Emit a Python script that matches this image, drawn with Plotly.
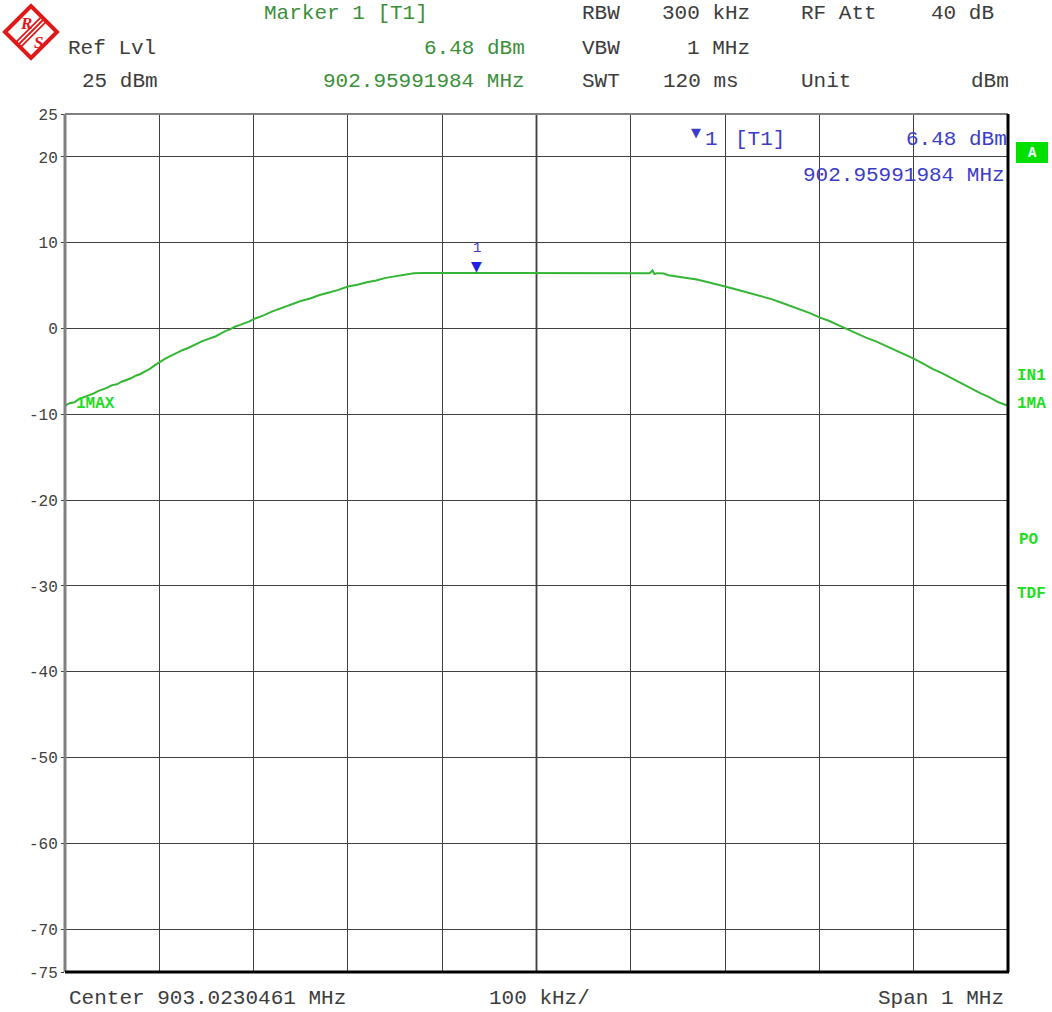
import plotly.graph_objects as go

# Spectrum analyzer settings
center_mhz = 903.0230461
span_mhz = 1.0
ref_level = 25
marker_freq_mhz = 902.95991984
marker_level = 6.48

# Trace: offset from center frequency (kHz) and level (dBm)
offset_khz = [
    -500, -495, -490, -485, -480, -475, -470, -465, -460, -455,
    -450, -445, -440, -435, -430, -425, -420, -415, -410, -405,
    -400, -395, -390, -385, -380, -375, -370, -365, -360, -355,
    -350, -345, -340, -335, -330, -325, -320, -315, -310, -305,
    -300, -290, -280, -270, -260, -250, -240, -230, -220, -210,
    -200, -190, -180, -170, -160, -150, -140, -130, -120, -100,
    -80, -63.1, -40, -20, 0, 20, 40, 60, 80, 100,
    120, 123, 125, 128, 135, 140, 150, 160, 170, 180,
    190, 200, 210, 220, 230, 240, 250, 260, 270, 280,
    290, 300, 310, 320, 330, 340, 350, 360, 370, 380,
    390, 400, 410, 420, 430, 440, 450, 460, 470, 480,
    490, 495, 500,
]
level_dbm = [
    -9.0, -8.7, -8.6, -8.2, -8.0, -7.8, -7.6, -7.3, -7.1, -6.9,
    -6.6, -6.5, -6.2, -6.0, -5.8, -5.5, -5.3, -5.0, -4.7, -4.3,
    -3.9, -3.6, -3.3, -3.0, -2.8, -2.5, -2.3, -2.0, -1.8, -1.5,
    -1.3, -1.1, -0.9, -0.6, -0.3, -0.1, 0.2, 0.4, 0.6, 0.8,
    1.1, 1.5, 2.0, 2.4, 2.8, 3.2, 3.5, 3.9, 4.2, 4.5,
    4.9, 5.1, 5.4, 5.6, 5.9, 6.1, 6.3, 6.45, 6.48, 6.48,
    6.48, 6.48, 6.48, 6.48, 6.48, 6.48, 6.48, 6.48, 6.48, 6.48,
    6.45, 6.78, 6.35, 6.45, 6.4, 6.2, 6.05, 5.9, 5.7, 5.45,
    5.2, 4.9, 4.6, 4.3, 4.0, 3.7, 3.4, 3.0, 2.6, 2.2,
    1.8, 1.3, 0.9, 0.4, -0.1, -0.6, -1.1, -1.5, -2.0, -2.5,
    -3.0, -3.5, -4.1, -4.7, -5.2, -5.8, -6.3, -6.9, -7.5, -8.0,
    -8.6, -8.8, -9.0,
]

y_tickvals = [25, 20, 10, 0, -10, -20, -30, -40, -50, -60, -70, -75]
y_ticktext = ["25", "20", "10", "0", "-10", "-20", "-30", "-40", "-50", "-60", "-70", "-75"]

freq_mhz = [center_mhz + k / 1000.0 for k in offset_khz]
x_lo = center_mhz - span_mhz / 2
x_hi = center_mhz + span_mhz / 2
x_gridvals = [center_mhz + k * span_mhz / 10 for k in range(-5, 6)]

W, H = 1052, 1012
L, R, T, B = 65, 1008, 114, 972
MONO = "Liberation Mono"
GRAY = "#3c3c3c"
GREEN_TXT = "#3a8f3a"
BLUE = "#3c3cc8"
BRIGHT = "#22dd22"
RED = "#e01818"
HEAD = 21


def px(x):
    return (x - L) / (R - L)


def py(y):
    return (B - y) / (B - T)


fig = go.Figure()
fig.add_trace(go.Scatter(
    x=freq_mhz, y=level_dbm, mode="lines",
    line=dict(color="#35b535", width=2), hoverinfo="skip", showlegend=False,
))

ann = []


def text(x, y, s, color=GRAY, size=HEAD, anchor="left", bold=False, family=MONO):
    ann.append(dict(
        x=px(x), y=py(y), xref="paper", yref="paper", text=(f"<b>{s}</b>" if bold else s),
        showarrow=False, xanchor=anchor, yanchor="middle",
        font=dict(family=family, size=size, color=color),
    ))


# Header block
text(262, 14, "Marker 1 [T1]", GREEN_TXT)
text(66, 48, "Ref Lvl")
text(527, 48, "6.48 dBm", GREEN_TXT, anchor="right")
text(80, 82, "25 dBm")
text(527, 82, "902.95991984 MHz", GREEN_TXT, anchor="right")
text(580, 14, "RBW")
text(752, 14, "300 kHz", anchor="right")
text(799, 14, "RF Att")
text(996, 14, "40 dB", anchor="right")
text(580, 48, "VBW")
text(752, 48, "1 MHz", anchor="right")
text(580, 82, "SWT")
text(661, 82, "120 ms")
text(799, 82, "Unit")
text(1011, 82, "dBm", anchor="right")

# Marker readout inside the grid
text(696, 133, "▼", BLUE, size=13, anchor="center", family="DejaVu Sans")
text(703, 140, "1", BLUE)
text(733, 140, "[T1]", BLUE)
text(1009, 140, "6.48 dBm", BLUE, anchor="right")
text(1007, 175, "902.95991984 MHz", BLUE, anchor="right")

# Footer
text(67, 998, "Center 903.0230461 MHz")
text(487, 998, "100 kHz/")
text(1006, 998, "Span 1 MHz", anchor="right")

# Side status labels
text(74, 404, "1MAX", BRIGHT, size=16, bold=True)
text(1015, 376, "IN1", BRIGHT, size=16, bold=True)
text(1015, 404, "1MA", BRIGHT, size=16, bold=True)
text(1017, 540, "PO", BRIGHT, size=16, bold=True)
text(1015, 594, "TDF", BRIGHT, size=16, bold=True)
text(1032, 153, "A", "white", size=14, anchor="center", bold=True)

# Marker 1 symbol on the trace
ann.append(dict(
    x=marker_freq_mhz, y=marker_level, xref="x", yref="y", text="▼",
    showarrow=False, xanchor="center", yanchor="bottom", yshift=-3,
    font=dict(family="DejaVu Sans", size=14, color="#2020e0"),
))
ann.append(dict(
    x=marker_freq_mhz, y=marker_level, xref="x", yref="y", text="1",
    showarrow=False, xanchor="center", yanchor="bottom", yshift=15,
    font=dict(family=MONO, size=14, color=BLUE),
))

# Logo letters
text(26, 23, "<b><i>R</i></b>", RED, size=17, anchor="center", family="Liberation Serif")
text(38, 43, "<b><i>S</i></b>", RED, size=17, anchor="center", family="Liberation Serif")

shapes = []


def line(x0, y0, x1, y1, color, width):
    shapes.append(dict(type="line", xref="paper", yref="paper",
                       x0=px(x0), y0=py(y0), x1=px(x1), y1=py(y1),
                       line=dict(color=color, width=width), layer="above"))


# Grid frame
line(L, T, R, T, "#808080", 2)
line(L, T, L, B, "#808080", 3)
line(L, B, R + 1, B, "#000000", 3)
line(R, T, R, B, "#000000", 3)
shapes.append(dict(type="line", xref="x", yref="paper", x0=center_mhz, x1=center_mhz,
                   y0=0, y1=1, line=dict(color="#606060", width=2), layer="below"))

# Status box
shapes.append(dict(type="rect", xref="paper", yref="paper",
                   x0=px(1016), x1=px(1048), y0=py(163), y1=py(142),
                   fillcolor="#00e000", line=dict(width=0), layer="below"))

# Logo diamond and stripes
cx, cy, r = 31, 32, 26
d = "M {} {} L {} {} L {} {} L {} {} Z".format(
    px(cx - r), py(cy), px(cx), py(cy - r), px(cx + r), py(cy), px(cx), py(cy + r))
shapes.append(dict(type="path", xref="paper", yref="paper", path=d,
                   line=dict(color=RED, width=4), fillcolor="white", layer="below"))
for o in (-3.5, 0, 3.5):
    line(cx - 14 + o * 0.7, cy + 14 + o * 0.7, cx + 14 + o * 0.7, cy - 14 + o * 0.7, RED, 1.8)

fig.update_layout(
    width=W, height=H,
    margin=dict(l=L, r=W - R, t=T, b=H - B, autoexpand=False),
    paper_bgcolor="white", plot_bgcolor="white",
    annotations=ann, shapes=shapes,
    xaxis=dict(range=[x_lo, x_hi], tickvals=x_gridvals, showticklabels=False,
               showgrid=True, gridcolor="#404040", gridwidth=1, zeroline=False,
               showline=False, ticks=""),
    yaxis=dict(range=[-75, 25], tickvals=y_tickvals, ticktext=y_ticktext,
               showgrid=True, gridcolor="#404040", gridwidth=1, zeroline=False,
               showline=False, ticks="outside", ticklen=3, tickcolor="#404040",
               tickfont=dict(family=MONO, size=16, color="#404040")),
    font=dict(family=MONO),
)

fig.write_html("out.html")
